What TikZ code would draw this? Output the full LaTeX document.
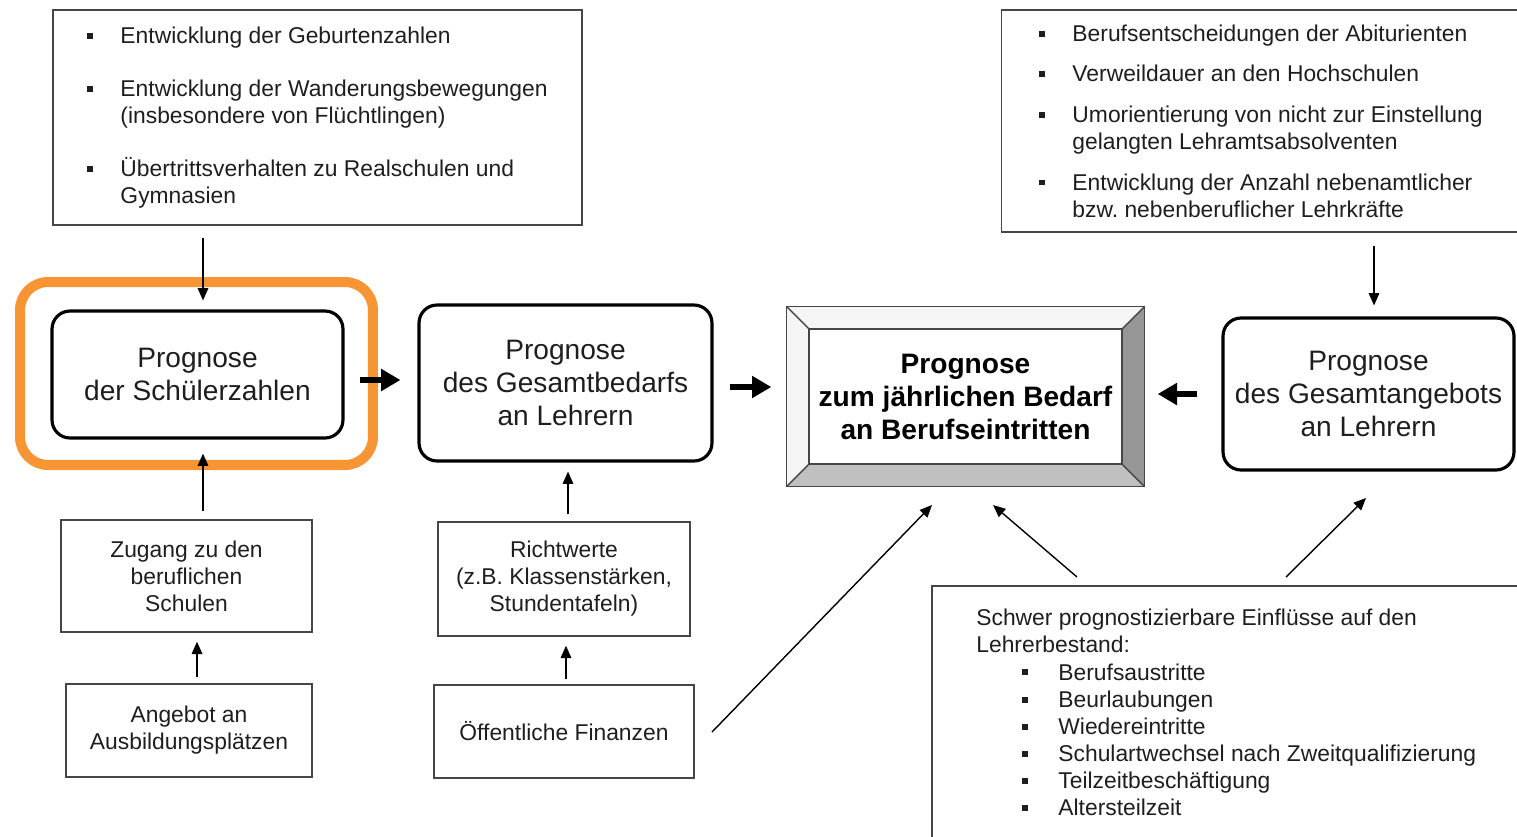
\documentclass[tikz,border=0pt]{standalone}
\usepackage{fontspec}
\setmainfont{Liberation Sans}
\usetikzlibrary{arrows.meta}

\definecolor{orangerahmen}{RGB}{247,148,51}
\definecolor{schrift}{RGB}{30,30,30}
\definecolor{rand}{RGB}{70,70,70}
\definecolor{kanteoben}{RGB}{245,245,245}
\definecolor{kanterechts}{RGB}{150,150,150}
\definecolor{kanteunten}{RGB}{192,192,192}

\newcommand{\kleinschrift}{\fontsize{13}{15.4}\selectfont}
\newcommand{\grossschrift}{\fontsize{16}{18.8}\selectfont}
\newcommand{\pkt}[1]{\makebox[#1][l]{\raisebox{2.6pt}{\rule{3.4pt}{3.4pt}}}}
\frenchspacing

\tikzset{
  kasten/.style={draw=rand, line width=0.8pt, text=schrift, font=\kleinschrift, align=center, inner sep=0pt},
  liste/.style={kasten, align=left},
  prognose/.style={draw=black, line width=1.8pt, rounded corners=0.36cm, text=schrift, font=\grossschrift, align=center},
  pfeil/.style={line width=0.8pt, -{Triangle[length=7pt,width=6pt]}},
  dickpfeil/.style={line width=3.4pt, -{Triangle[length=11pt,width=12pt]}}
}

\begin{document}
\begin{tikzpicture}[x=0.02cm, y=-0.02cm]
\useasboundingbox (0,0) rectangle (1517,836);

% Einflussfaktoren oben
\node[liste, minimum width=10.58cm, minimum height=4.3cm] (geburten) at (317.5,117.5)
  {\pkt{18.8pt}Entwicklung der Geburtenzahlen\\[14.8pt]
   \pkt{18.8pt}Entwicklung der Wanderungsbewegungen\\
   \hspace*{18.8pt}(insbesondere von Flüchtlingen)\\[14.8pt]
   \pkt{18.8pt}Übertrittsverhalten zu Realschulen und\\
   \hspace*{18.8pt}Gymnasien};
\node[liste, minimum width=10.38cm, minimum height=4.44cm] (abitur) at (1261,121)
  {\pkt{18.8pt}Berufsentscheidungen der Abiturienten\\[7.7pt]
   \pkt{18.8pt}Verweildauer an den Hochschulen\\[7.7pt]
   \pkt{18.8pt}Umorientierung von nicht zur Einstellung\\
   \hspace*{18.8pt}gelangten Lehramtsabsolventen\\[7.7pt]
   \pkt{18.8pt}Entwicklung der Anzahl nebenamtlicher\\
   \hspace*{18.8pt}bzw. nebenberuflicher Lehrkräfte};

% Prognosen
\node[prognose, minimum width=5.82cm, minimum height=2.54cm] (schueler) at (197.5,374.5) {Prognose\\der Schülerzahlen};
\node[draw=orangerahmen, line width=5.7pt, rounded corners=0.56cm, minimum width=7.06cm, minimum height=3.66cm] (markierung) at (196.5,373.5) {};
\node[prognose, minimum width=5.86cm, minimum height=3.12cm] (bedarf) at (565.5,383) {Prognose\\des Gesamtbedarfs\\an Lehrern};
\node[prognose, minimum width=5.82cm, minimum height=3.04cm] (angebot) at (1368.5,394) {Prognose\\des Gesamtangebots\\an Lehrern};

% Zielkasten mit Rahmen
\node[draw=rand, fill=white, line width=0.8pt, minimum width=7.14cm, minimum height=3.58cm, inner sep=0pt] (ziel) at (965.5,396.5) {};
\node[minimum width=6.26cm, minimum height=2.7cm, inner sep=0pt] (zielinnen) at (965.5,396.5) {};
\fill[kanteoben] (ziel.north west) -- (ziel.north east) -- (zielinnen.north east) -- (zielinnen.north west) -- cycle;
\fill[kanteoben] (ziel.north west) -- (zielinnen.north west) -- (zielinnen.south west) -- (ziel.south west) -- cycle;
\fill[kanterechts] (ziel.north east) -- (ziel.south east) -- (zielinnen.south east) -- (zielinnen.north east) -- cycle;
\fill[kanteunten] (ziel.south west) -- (ziel.south east) -- (zielinnen.south east) -- (zielinnen.south west) -- cycle;
\draw[rand, line width=0.8pt] (ziel.north west) rectangle (ziel.south east);
\draw[rand, line width=0.8pt] (ziel.north west) -- (zielinnen.north west) (ziel.north east) -- (zielinnen.north east)
  (ziel.south west) -- (zielinnen.south west) (ziel.south east) -- (zielinnen.south east);
\node[draw=rand, fill=white, line width=0.8pt, minimum width=6.26cm, minimum height=2.7cm, inner sep=0pt,
  font=\grossschrift\bfseries, text=black, align=center] (zieltext) at (zielinnen) {Prognose\\zum jährlichen Bedarf\\an Berufseintritten};

% Einflussfaktoren unten
\node[kasten, minimum width=5.02cm, minimum height=2.24cm] (zugang) at (186.5,576) {Zugang zu den\\beruflichen\\Schulen};
\node[kasten, minimum width=4.92cm, minimum height=1.86cm] (plaetze) at (189,730.5) {Angebot an\\Ausbildungsplätzen};
\node[kasten, minimum width=5.04cm, minimum height=2.28cm] (richtwerte) at (564,579) {Richtwerte\\(z.B. Klassenstärken,\\Stundentafeln)};
\node[kasten, minimum width=5.2cm, minimum height=1.86cm] (finanzen) at (564,731.5) {Öffentliche Finanzen};
\node[kasten, minimum width=12.16cm, minimum height=5.28cm] (bestand) at (1236,718) {};
\node[font=\kleinschrift, text=schrift, align=left, anchor=north west, inner sep=0pt] (bestandtext) at (976,609)
  {Schwer prognostizierbare Einflüsse auf den\\
   Lehrerbestand:\\
   \hspace*{26.2pt}\pkt{20.5pt}Berufsaustritte\\
   \hspace*{26.2pt}\pkt{20.5pt}Beurlaubungen\\
   \hspace*{26.2pt}\pkt{20.5pt}Wiedereintritte\\
   \hspace*{26.2pt}\pkt{20.5pt}Schulartwechsel nach Zweitqualifizierung\\
   \hspace*{26.2pt}\pkt{20.5pt}Teilzeitbeschäftigung\\
   \hspace*{26.2pt}\pkt{20.5pt}Altersteilzeit};

% freie Pfeilenden
\coordinate (finanzen-aus) at (712,732);
\coordinate (ziel-ein1) at (932,505);
\coordinate (bestand-aus1) at (1077,577);
\coordinate (ziel-ein2) at (993,505);
\coordinate (bestand-aus2) at (1286,577);
\coordinate (angebot-ein) at (1366,498);

% Pfeile
\draw[pfeil, shorten <=0.24cm, shorten >=0.18cm] ([xshift=0.11cm]schueler.north |- geburten.south) -- ([xshift=0.11cm]schueler.north);
\draw[pfeil, shorten <=0.26cm, shorten >=0.22cm] ([xshift=0.11cm]angebot.north |- abitur.south) -- ([xshift=0.11cm]angebot.north);
\draw[dickpfeil, shorten <=0.3cm, shorten >=0.34cm] ([yshift=-0.11cm]schueler.east) -- ([yshift=-0.11cm]schueler.east -| bedarf.west);
\draw[dickpfeil, shorten <=0.32cm, shorten >=0.3cm] ([yshift=-0.08cm]bedarf.east) -- ([yshift=-0.08cm]bedarf.east -| ziel.west);
\draw[dickpfeil, shorten <=0.48cm, shorten >=0.26cm] (angebot.west) -- (angebot.west -| ziel.east);
\draw[pfeil, shorten <=0.16cm, shorten >=0.28cm] ([xshift=0.11cm]schueler.south |- zugang.north) -- ([xshift=0.11cm]schueler.south);
\draw[pfeil, shorten <=0.12cm, shorten >=0.18cm] ([xshift=0.16cm]plaetze.north) -- ([xshift=0.16cm]plaetze.north |- zugang.south);
\draw[pfeil, shorten <=0.14cm, shorten >=0.18cm] ([xshift=0.05cm]bedarf.south |- richtwerte.north) -- ([xshift=0.05cm]bedarf.south);
\draw[pfeil, shorten <=0.1cm, shorten >=0.18cm] ([xshift=0.04cm]finanzen.north) -- ([xshift=0.04cm]finanzen.north |- richtwerte.south);
\draw[pfeil] (finanzen-aus) -- (ziel-ein1);
\draw[pfeil] (bestand-aus1) -- (ziel-ein2);
\draw[pfeil] (bestand-aus2) -- (angebot-ein);
\end{tikzpicture}
\end{document}
